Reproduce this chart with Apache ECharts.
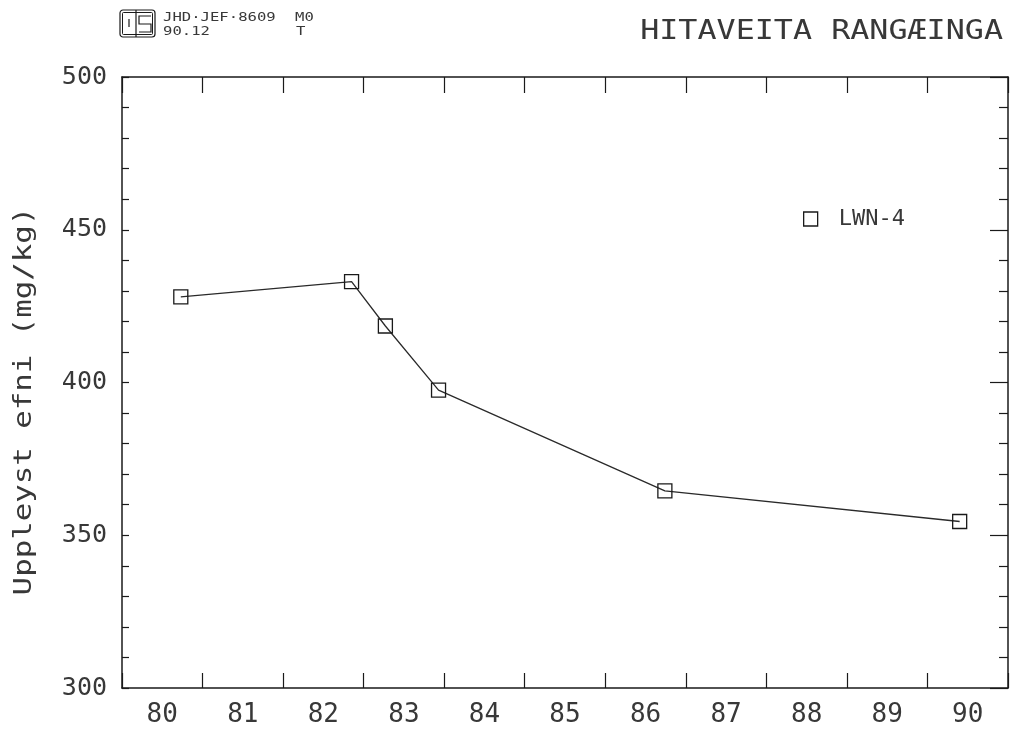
<!DOCTYPE html>
<html>
<head>
<meta charset="utf-8">
<title>HITAVEITA RANGÆINGA</title>
<script src="https://cdn.jsdelivr.net/npm/echarts@6/dist/echarts.min.js"></script>
<style>
  html, body { margin: 0; padding: 0; background: #ffffff; }
  #chart { width: 1013px; height: 737px; }
</style>
</head>
<body>
<div id="chart"></div>
<script>
// Year labels shown under the time axis (each label sits in the middle of its year)
const years = ['80', '81', '82', '83', '84', '85', '86', '87', '88', '89', '90'];
// Sampling times of well LWN-4, as decimal years (80 = 1980)
const sampleTime = [80.73, 82.85, 83.27, 83.93, 86.74, 90.40];
// Total dissolved solids, mg/kg
const dissolved = [428, 433, 418.5, 397.5, 364.5, 354.5];
const wellName = 'LWN-4';

const FONT = '"DejaVu Sans Mono", monospace';
const INK = '#1a1a1a';
const TEXT_INK = '#383838';

const chart = echarts.init(document.getElementById('chart'), null, { renderer: 'canvas' });

const frameLine = { show: true, lineStyle: { color: INK, width: 1.5 } };

const option = {
  backgroundColor: '#ffffff',
  animation: false,
  grid: { left: 122, top: 77, width: 886, height: 611 },
  legend: {
    left: 798,
    top: 203,
    itemWidth: 14,
    itemHeight: 14,
    icon: 'rect',
    itemStyle: { color: 'rgba(255,255,255,0)', borderColor: INK, borderWidth: 1.3 },
    textStyle: { fontFamily: FONT, fontSize: 22, color: TEXT_INK, padding: [0, 0, 0, 16] },
    data: [wellName]
  },
  xAxis: [
    {
      type: 'value', min: 80, max: 91, interval: 1, position: 'bottom',
      axisLine: frameLine,
      axisTick: { show: true, inside: true, length: 15, lineStyle: { color: INK, width: 1.2 } },
      axisLabel: { show: false },
      splitLine: { show: false }
    },
    {
      type: 'value', min: 80, max: 91, interval: 1, position: 'top',
      axisLine: frameLine,
      axisTick: { show: true, inside: true, length: 16, lineStyle: { color: INK, width: 1.2 } },
      axisLabel: { show: false },
      splitLine: { show: false }
    },
    {
      type: 'category', data: years, position: 'bottom', boundaryGap: true,
      axisLine: { show: false },
      axisTick: { show: false },
      axisLabel: { margin: 14, fontFamily: FONT, fontSize: 26, color: TEXT_INK },
      splitLine: { show: false }
    }
  ],
  yAxis: [
    {
      type: 'value', min: 300, max: 500, interval: 50, position: 'left',
      axisLine: frameLine,
      axisTick: { show: true, inside: true, length: 7, lineStyle: { color: INK, width: 1.2 } },
      minorTick: { show: true, splitNumber: 5, length: 7, lineStyle: { color: INK, width: 1.2 } },
      axisLabel: { margin: 15, fontFamily: FONT, fontSize: 25, color: TEXT_INK, padding: [5, 0, 0, 0] },
      splitLine: { show: false },
      minorSplitLine: { show: false }
    },
    {
      type: 'value', min: 300, max: 500, interval: 50, position: 'right',
      axisLine: frameLine,
      axisTick: { show: true, inside: true, length: 18, lineStyle: { color: INK, width: 1.2 } },
      minorTick: { show: true, splitNumber: 5, length: 9, lineStyle: { color: INK, width: 1.2 } },
      axisLabel: { show: false },
      splitLine: { show: false },
      minorSplitLine: { show: false }
    }
  ],
  series: [
    {
      name: wellName,
      type: 'line',
      xAxisIndex: 0,
      yAxisIndex: 0,
      data: sampleTime.map((t, i) => [t, dissolved[i]]),
      symbol: 'rect',
      symbolSize: 14,
      itemStyle: { color: 'rgba(255,255,255,0)', borderColor: INK, borderWidth: 1.3 },
      lineStyle: { color: '#2a2a2a', width: 1.3 },
      emphasis: { disabled: true }
    }
  ],
  graphic: [
    // chart title, top right
    {
      type: 'text', x: 1003, y: 45, scaleX: 1.22,
      style: { text: 'HITAVEITA RANGÆINGA', font: '26px ' + FONT, fill: TEXT_INK, align: 'right', verticalAlign: 'bottom' }
    },
    // vertical axis title
    {
      type: 'text', x: 24, y: 401, rotation: Math.PI / 2, scaleX: 1.23,
      style: { text: 'Uppleyst efni (mg/kg)', font: '25px ' + FONT, fill: TEXT_INK, align: 'center', verticalAlign: 'middle' }
    },
    // drawing reference in the top-left corner
    {
      type: 'text', x: 163, y: 24, scaleX: 1.3,
      style: { text: 'JHD·JEF·8609', font: '12px ' + FONT, fill: TEXT_INK, align: 'left', verticalAlign: 'bottom' }
    },
    {
      type: 'text', x: 295, y: 24, scaleX: 1.3,
      style: { text: 'M0', font: '12px ' + FONT, fill: TEXT_INK, align: 'left', verticalAlign: 'bottom' }
    },
    {
      type: 'text', x: 163, y: 38, scaleX: 1.3,
      style: { text: '90.12', font: '12px ' + FONT, fill: TEXT_INK, align: 'left', verticalAlign: 'bottom' }
    },
    {
      type: 'text', x: 296, y: 38, scaleX: 1.3,
      style: { text: 'T', font: '12px ' + FONT, fill: TEXT_INK, align: 'left', verticalAlign: 'bottom' }
    },
    // small "IS" badge
    {
      type: 'group', x: 120, y: 10,
      children: [
        { type: 'rect', shape: { x: 0, y: 0, width: 35, height: 27, r: 3 }, style: { fill: 'none', stroke: INK, lineWidth: 1.2 } },
        { type: 'rect', shape: { x: 2.5, y: 2.5, width: 30, height: 22, r: 1 }, style: { fill: 'none', stroke: INK, lineWidth: 1 } },
        { type: 'line', shape: { x1: 16, y1: 0, x2: 16, y2: 27 }, style: { stroke: INK, lineWidth: 1.2 } },
        { type: 'line', shape: { x1: 9, y1: 9, x2: 9, y2: 17 }, style: { stroke: INK, lineWidth: 1.2 } },
        { type: 'polyline', shape: { points: [[31, 6], [19, 6], [19, 14], [31, 14], [31, 22], [19, 22]] }, style: { fill: 'none', stroke: INK, lineWidth: 1.2 } }
      ]
    }
  ]
};

chart.setOption(option);
</script>
</body>
</html>
